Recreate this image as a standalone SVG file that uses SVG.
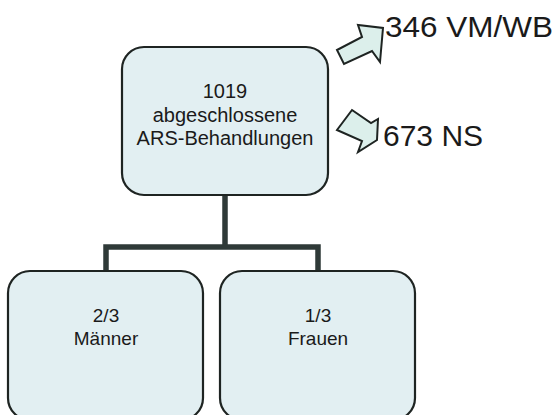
<svg xmlns="http://www.w3.org/2000/svg" width="555" height="415" viewBox="0 0 555 415">
<style>
.box{fill:#e2eff2;stroke:#1e2422;stroke-width:2.2}
.t{font-family:"Liberation Sans",Arial,sans-serif;fill:#1a1a1a;text-anchor:middle}
.big{font-family:"Liberation Sans",Arial,sans-serif;fill:#1a1a1a;font-size:30px}
.arr{fill:#dcefeb;stroke:#1e2422;stroke-width:2;stroke-linejoin:miter}
.conn{fill:none;stroke:#2f3a38;stroke-width:5.5}
</style>
<rect width="555" height="415" fill="#ffffff"/>
<g id="connectors">
<path class="conn" d="M225,195 V247 M106,271 V247 H318 V271"/>
<polygon class="arr" points="337,50 362,37 358,25 383,28 380,62 372,51 344,64"/>
<polygon class="arr" points="352,110 371,123 378,119 377,140 358,152 362,141 337,130"/>
</g>
<g id="node-total">
<rect class="box" x="122" y="47" width="206" height="148" rx="22"/>
<text class="t" font-size="20" x="225" y="98">1019</text>
<text class="t" font-size="20" x="225" y="122">abgeschlossene</text>
<text class="t" font-size="20" x="225" y="145">ARS-Behandlungen</text>
</g>
<g id="node-vm">
<text class="big" x="385" y="37" textLength="168" lengthAdjust="spacingAndGlyphs">346 VM/WB</text>
</g>
<g id="node-ns">
<text class="big" x="383" y="146">673 NS</text>
</g>
<g id="node-maenner">
<rect class="box" x="8" y="271" width="195" height="149" rx="22"/>
<text class="t" font-size="19" x="106" y="322">2/3</text>
<text class="t" font-size="19" x="106" y="345">Männer</text>
</g>
<g id="node-frauen">
<rect class="box" x="220" y="271" width="195" height="149" rx="22"/>
<text class="t" font-size="19" x="318" y="322">1/3</text>
<text class="t" font-size="19" x="318" y="345">Frauen</text>
</g>
</svg>
